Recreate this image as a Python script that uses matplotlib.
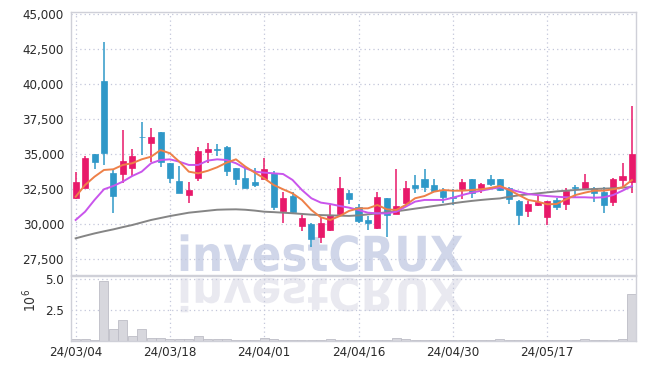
import matplotlib
matplotlib.use('Agg')
import matplotlib.pyplot as plt
from matplotlib.textpath import TextPath
from matplotlib.patches import PathPatch, Rectangle
from matplotlib.font_manager import FontProperties
from matplotlib.transforms import Affine2D
from matplotlib.ticker import FuncFormatter

plt.rcParams['font.family'] = ['DejaVu Sans']
plt.rcParams['font.stretch'] = 'condensed'

# 거래일 (60일)
dates = ['24/03/04', '24/03/05', '24/03/06', '24/03/07', '24/03/08',
         '24/03/11', '24/03/12', '24/03/13', '24/03/14', '24/03/15',
         '24/03/18', '24/03/19', '24/03/20', '24/03/21', '24/03/22',
         '24/03/25', '24/03/26', '24/03/27', '24/03/28', '24/03/29',
         '24/04/01', '24/04/02', '24/04/03', '24/04/04', '24/04/05',
         '24/04/08', '24/04/09', '24/04/11', '24/04/12', '24/04/15',
         '24/04/16', '24/04/17', '24/04/18', '24/04/19', '24/04/22',
         '24/04/23', '24/04/24', '24/04/25', '24/04/26', '24/04/29',
         '24/04/30', '24/05/02', '24/05/03', '24/05/07', '24/05/08',
         '24/05/09', '24/05/10', '24/05/13', '24/05/14', '24/05/16',
         '24/05/17', '24/05/20', '24/05/21', '24/05/22', '24/05/23',
         '24/05/24', '24/05/27', '24/05/28', '24/05/29', '24/05/30']
tick_idx = [0, 10, 20, 30, 40, 50]

opens = [31900, 32610, 35000, 40240, 33640, 33570, 33990, 36250, 35830, 36570,
         34400, 33090, 32110, 33330, 35160, 35380, 35540, 34040, 33330, 33000,
         33240, 33690, 30970, 32040, 29900, 30000, 29110, 29590, 30740, 32260,
         31210, 30310, 29710, 31860, 30710, 31500, 32810, 33210, 32810, 32380,
         31950, 32500, 33210, 32610, 33210, 33240, 32570, 31660, 30970, 31380,
         30540, 31740, 31450, 32660, 32570, 32570, 32330, 31610, 33160, 33040]
highs = [33710, 34880, 35000, 43000, 33900, 36740, 35380, 37290, 36860, 36570,
         34400, 34160, 33000, 35500, 35790, 35710, 35600, 34040, 34000, 34040,
         34710, 33800, 32290, 32290, 30660, 30100, 30430, 31380, 33400, 32450,
         31450, 30590, 32330, 31860, 33930, 33110, 33520, 33930, 33210, 32570,
         32500, 33210, 33250, 32970, 33520, 33240, 32640, 31750, 31660, 32090,
         31700, 31860, 32570, 32810, 33590, 32690, 32640, 33290, 34360, 38450]
lows = [31790, 32610, 33930, 34240, 30790, 32930, 33470, 34950, 34470, 34070,
        32930, 32260, 31500, 33110, 34360, 34880, 33450, 32810, 32610, 32640,
        33240, 31020, 30070, 30790, 29520, 28400, 28690, 29550, 30660, 31450,
        30100, 29590, 29640, 29110, 30710, 31430, 32260, 32290, 32300, 31500,
        31380, 31790, 31860, 32260, 32740, 32400, 31430, 29950, 30500, 31310,
        29950, 31020, 31020, 31970, 32500, 31610, 30790, 31310, 32640, 32260]
closes = [33020, 34740, 34470, 35110, 32040, 34520, 34880, 36200, 36210, 34430,
          33330, 32260, 32450, 35240, 35360, 35340, 33830, 33240, 32610, 32790,
          33950, 31210, 31860, 30900, 30430, 28930, 30070, 30660, 32570, 31790,
          30260, 30070, 31930, 30660, 31310, 32570, 32610, 32690, 32380, 31970,
          31850, 33000, 32260, 32880, 32880, 32450, 31790, 30660, 31450, 31610,
          31660, 31260, 32400, 32620, 33040, 32260, 31380, 33240, 33450, 35020]
# 거래량 (백만주)
volume = [0.19, 0.19, 0.11, 4.83, 0.99, 1.69, 0.41, 0.99, 0.27, 0.27,
          0.19, 0.19, 0.19, 0.43, 0.13, 0.19, 0.19, 0.11, 0.11, 0.11,
          0.27, 0.16, 0.08, 0.11, 0.11, 0.08, 0.08, 0.19, 0.08, 0.08,
          0.08, 0.08, 0.08, 0.08, 0.27, 0.13, 0.08, 0.08, 0.08, 0.08,
          0.08, 0.05, 0.05, 0.05, 0.05, 0.13, 0.11, 0.08, 0.08, 0.04,
          0.08, 0.08, 0.08, 0.08, 0.13, 0.08, 0.08, 0.08, 0.19, 3.81]
# 이동평균선
ma5 = [31970, 32810, 33400, 33880, 33930, 34240, 34360, 34640, 34830, 35300,
       35070, 34470, 33760, 33640, 33820, 34070, 34400, 34640, 34120, 33690,
       33280, 32810, 32500, 32210, 31740, 31020, 30500, 30310, 30590, 30960,
       31140, 31140, 31380, 31070, 31020, 31380, 31860, 32020, 32330, 32450,
       32400, 32400, 32450, 32500, 32600, 32740, 32450, 32090, 31740, 31620,
       31430, 31450, 31780, 32090, 32260, 32400, 32400, 32500, 32640, 33160]
ma20 = [30310, 30900, 31740, 32500, 32740, 33050, 33450, 33760, 34360, 34590,
        34640, 34470, 34240, 34240, 34550, 34640, 34590, 34360, 34000, 33760,
        33690, 33640, 33590, 33170, 32450, 31860, 31550, 31450, 31310, 31190,
        31020, 30830, 30780, 30780, 30900, 31260, 31620, 31740, 31740, 31740,
        31900, 32090, 32260, 32400, 32530, 32640, 32500, 32330, 32160, 32090,
        32020, 31970, 31930, 31930, 31930, 31900, 31930, 32090, 32400, 32740]
ma60 = [29000, 29180, 29350, 29500, 29640, 29800, 29950, 30130, 30310, 30450,
        30590, 30710, 30830, 30900, 30970, 31040, 31060, 31070, 31040, 30980,
        30900, 30870, 30830, 30790, 30740, 30690, 30660, 30640, 30620, 30600,
        30640, 30710, 30780, 30860, 30930, 31020, 31120, 31210, 31310, 31400,
        31500, 31590, 31670, 31740, 31800, 31850, 31970, 32070, 32140, 32210,
        32280, 32350, 32400, 32450, 32500, 32520, 32550, 32570, 32620, 32660]

UP = '#e8196a'
DOWN = '#2f98c8'
GRID = '#c3c7da'
SPINE = '#cfd0d8'

fig = plt.figure(figsize=(6.45, 3.69), dpi=100)
ax = fig.add_axes([0.110, 0.2547, 0.8756, 0.7128])
axv = fig.add_axes([0.110, 0.0759, 0.8756, 0.1761], sharex=ax)

x = list(range(len(dates)))

# 캔들
for i in x:
    o, h, l, c = opens[i], highs[i], lows[i], closes[i]
    col = UP if c >= o else DOWN
    ax.vlines(i, l, h, color=col, linewidth=1.1, zorder=2)
    bottom = min(o, c)
    height = max(abs(c - o), 25)
    ax.add_patch(Rectangle((i - 0.32, bottom), 0.64, height,
                           facecolor=col, edgecolor=col, linewidth=0.5, zorder=3))

ax.plot(x, ma60, color='#858585', linewidth=1.4, zorder=4)
ax.plot(x, ma20, color='#c955ec', linewidth=1.4, zorder=4)
ax.plot(x, ma5, color='#ee8048', linewidth=1.4, zorder=4)

axv.bar(x, volume, width=0.96, color='#d7d7dd', edgecolor='#bdbdc6',
        linewidth=0.6, zorder=2)

ax.set_xlim(-0.5, 59.4)
ax.set_ylim(26380, 45160)
axv.set_ylim(0, 5.25)

ax.set_yticks([27500, 30000, 32500, 35000, 37500, 40000, 42500, 45000])
ax.yaxis.set_major_formatter(FuncFormatter(lambda v, p: f'{int(v):,}'))
axv.set_yticks([2.5, 5.0])
axv.yaxis.set_major_formatter(FuncFormatter(lambda v, p: f'{v:.1f}'))
axv.set_xticks(tick_idx)
axv.set_xticklabels([dates[i] for i in tick_idx])
ax.tick_params(axis='x', labelbottom=False, length=0)

for a in (ax, axv):
    a.set_axisbelow(True)
    a.grid(True, color=GRID, linestyle=(0, (1, 2.5)), linewidth=0.9)
    a.tick_params(axis='both', length=0, labelsize=9.5, colors='#2a2a2a', pad=5)
    for s in a.spines.values():
        s.set_color(SPINE)
        s.set_linewidth(1.0)
axv.tick_params(axis='x', pad=3)

fig.text(0.046, 0.187, r'$10^6$', rotation=90, ha='center', va='center',
         fontsize=10, color='#333333')

# 워터마크
tp = TextPath((0, 0), 'investCRUX', size=50,
              prop=FontProperties(family='DejaVu Sans', weight='bold', stretch='normal'))
ext = tp.get_extents()
sx = 282 / ext.width
wm = Affine2D().translate(-ext.x0, -ext.y0).scale(sx, 37.4 / ext.height).translate(180.7, 97.3)
ax.add_artist(PathPatch(tp, transform=wm, facecolor='#d0d6e9', edgecolor='none',
                        zorder=0.2, clip_on=False))
wr = Affine2D().translate(-ext.x0, -ext.y0).scale(sx, -34.6 / ext.height).translate(180.7, 91.3)
axv.add_artist(PathPatch(tp, transform=wr, facecolor='#e9e9f0', edgecolor='none',
                         zorder=0.2, clip_on=False))

fig.savefig('out.png', dpi=100)
